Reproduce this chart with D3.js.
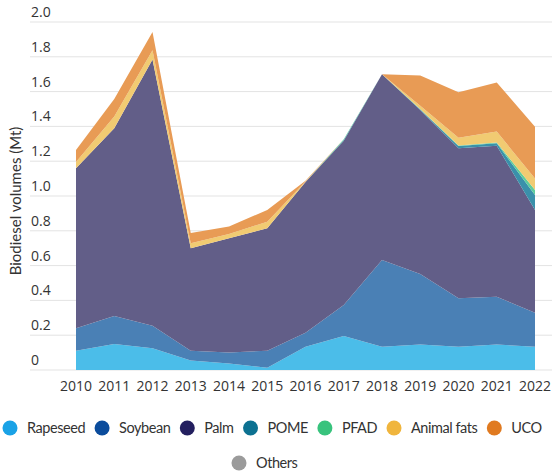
<!DOCTYPE html>
<html><head><meta charset="utf-8">
<script src="https://cdn.jsdelivr.net/npm/d3@7"></script>
<style>body{margin:0;background:#fff}svg{display:block}</style>
</head><body>
<svg id="c" width="552" height="474"></svg>
<script>
const years = [2010,2011,2012,2013,2014,2015,2016,2017,2018,2019,2020,2021,2022];
const seriesNames = ["Rapeseed","Soybean","Palm","POME","PFAD","Animal fats","UCO","Others"];
const rapeseed   = [0.11,0.15,0.125,0.054,0.038,0.013,0.134,0.195,0.134,0.146,0.134,0.146,0.134];
const soybean    = [0.13,0.16,0.13,0.057,0.063,0.098,0.08,0.179,0.498,0.406,0.278,0.275,0.195];
const palm       = [0.92,1.08,1.53,0.589,0.656,0.703,0.866,0.944,1.068,0.942,0.862,0.868,0.591];
const pome       = [0,0,0,0,0,0,0,0.004,0,0.003,0.013,0.014,0.086];
const pfad       = [0,0,0,0,0,0,0,0.004,0,0.003,0.003,0.004,0.028];
const animalFats = [0.035,0.067,0.053,0.028,0.025,0.038,0.003,0,0,0.018,0.045,0.063,0.067];
const uco        = [0.07,0.10,0.105,0.06,0.042,0.068,0.005,0,0,0.175,0.261,0.283,0.297];
const others     = [0,0,0,0,0,0,0,0,0,0,0,0,0];
const yTicks = [0,0.2,0.4,0.6,0.8,1.0,1.2,1.4,1.6,1.8,2.0];
const areaColors   = ["#4bbde9","#4a80b5","#625e88","#3a90aa","#5ecc9c","#f1cb72","#e89b55","#b5b5b5"];
const legendColors = ["#1aa2e6","#0b4c9c","#231f5f","#0c7191","#38c37d","#f0b53d","#e07a20","#9b9b9b"];

const seriesData = [rapeseed,soybean,palm,pome,pfad,animalFats,uco,others];
const table = years.map((yr,i)=>{const o={year:yr}; seriesNames.forEach((n,k)=>o[n]=seriesData[k][i]); return o;});

const svg = d3.select("#c");
const x = d3.scaleLinear().domain([2010,2022]).range([76,535]);
const y = d3.scaleLinear().domain([0,2]).range([370,22]);

// gridlines
svg.append("g").selectAll("line").data(yTicks).join("line")
  .attr("x1",30).attr("x2",552)
  .attr("y1",d=>y(d)).attr("y2",d=>y(d))
  .attr("stroke","#e3e3e3").attr("stroke-width",1);

// y tick labels
svg.append("g").selectAll("text").data(yTicks).join("text")
  .attr("x",31).attr("y",d=>y(d)-5)
  .attr("font-family","Open Sans, sans-serif").attr("font-size",14).attr("fill","#333")
  .text(d=>d===0?"0":d3.format(".1f")(d));

// stacked areas
const stack = d3.stack().keys(seriesNames);
const layers = stack(table);
const area = d3.area().x(d=>x(d.data.year)).y0(d=>y(d[0])).y1(d=>y(d[1]));
svg.append("g").selectAll("path").data(layers).join("path")
  .attr("d",area).attr("fill",(d,i)=>areaColors[i]);

// x axis labels
svg.append("g").selectAll("text").data(years).join("text")
  .attr("x",d=>x(d)).attr("y",391).attr("text-anchor","middle")
  .attr("font-family","Open Sans, sans-serif").attr("font-size",14).attr("fill","#333")
  .text(d=>d);

// y title
svg.append("text").attr("transform","translate(21,201) rotate(-90)")
  .attr("text-anchor","middle").attr("font-family","Lato, sans-serif").attr("font-size",15).attr("fill","#333")
  .text("Biodiesel volumes (Mt)");

// legend (overflows on the right, as in the original)
const leg = svg.append("g");
const rows = [[0,1,2,3,4,5,6],[7]];
const rowY = [428,463];
const rowStart = [3,232];
rows.forEach((row,r)=>{
  let lx = rowStart[r];
  row.forEach(k=>{
    leg.append("circle").attr("cx",lx+7).attr("cy",rowY[r]).attr("r",7.5).attr("fill",legendColors[k]);
    const t = leg.append("text").attr("x",lx+24).attr("y",rowY[r]+5)
      .attr("font-family","Lato, sans-serif").attr("font-size",14.5).attr("letter-spacing","-0.45px")
      .attr("fill","#333").text(seriesNames[k]);
    lx = lx + 24 + t.node().getComputedTextLength() + 10;
  });
});
</script>
</body></html>
